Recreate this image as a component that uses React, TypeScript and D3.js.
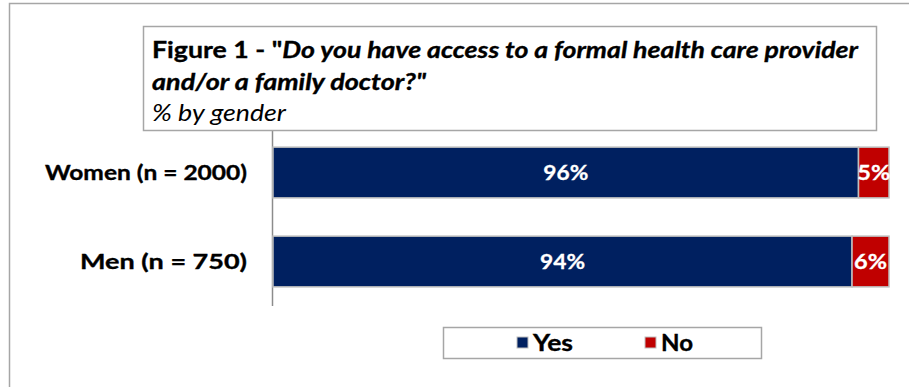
import React from "react";
import * as d3 from "d3";

const categories = ["Women (n = 2000)", "Men (n = 750)"];
const seriesNames = ["Yes", "No"];
const yesValues = [96, 94];
const noValues = [5, 6];
const colors = ["#002060", "#C00000"];

const W = 909;
const H = 387;
const FONT = "Lato, 'Open Sans', sans-serif";

export default function App() {
  const x = d3.scaleLinear().domain([0, 1]).range([273, 889]);
  const y = d3.scaleBand().domain(categories).range([128, 306]).paddingInner(0.43).paddingOuter(0.215);

  const rows = categories.map((c, i) => {
    const vals = [yesValues[i], noValues[i]];
    const total = d3.sum(vals);
    let acc = 0;
    return {
      cat: c,
      segs: vals.map((v, j) => {
        const s = { name: seriesNames[j], v, x0: acc / total, x1: (acc + v) / total, color: colors[j] };
        acc += v;
        return s;
      }),
    };
  });

  const labelLen: Record<string, number> = { "Women (n = 2000)": 202, "Men (n = 750)": 167 };

  return (
    <svg width={W} height={H} style={{ position: "absolute", left: 0, top: 0, background: "#fff" }}>
      <rect x={9.5} y={3.5} width={W + 20} height={H + 20} fill="#fff" stroke="#a6a6a6" strokeWidth={1.5} />
      {/* axis line */}
      <line x1={272.5} x2={272.5} y1={128} y2={306} stroke="#8c8c8c" strokeWidth={1.5} />
      {/* title box */}
      <rect x={143.5} y={26.5} width={733} height={104} fill="#fff" stroke="#a6a6a6" strokeWidth={1.5} />
      <text x={152} y={58} fontFamily={FONT} fontSize={23.5} fill="#000" stroke="#000" strokeWidth={0.35} textLength={706} lengthAdjust="spacingAndGlyphs">
        <tspan fontWeight="bold">Figure 1 - "</tspan>
        <tspan fontWeight="bold" fontStyle="italic">Do you have access to a formal health care provider</tspan>
      </text>
      <text x={152} y={90} fontFamily={FONT} fontSize={23.5} fill="#000" stroke="#000" strokeWidth={0.35} fontWeight="bold" fontStyle="italic" textLength={274} lengthAdjust="spacingAndGlyphs">
        and/or a family doctor?"
      </text>
      <text x={152} y={121} fontFamily={FONT} fontSize={23.5} fill="#000" fontStyle="italic" textLength={134} lengthAdjust="spacingAndGlyphs">
        % by gender
      </text>
      {rows.map((r) => (
        <g key={r.cat}>
          <text
            x={247}
            y={(y(r.cat) as number) + y.bandwidth() / 2}
            dy="0.36em"
            textAnchor="end"
            fontFamily={FONT}
            fontSize={21.5}
            fontWeight="bold"
            fill="#000"
            stroke="#000"
            strokeWidth={0.35}
            textLength={labelLen[r.cat]}
            lengthAdjust="spacingAndGlyphs"
          >
            {r.cat}
          </text>
          {r.segs.map((s) => (
            <g key={s.name}>
              <rect
                x={x(s.x0)}
                y={y(r.cat)}
                width={x(s.x1) - x(s.x0)}
                height={y.bandwidth()}
                fill={s.color}
                stroke="#bfbfbf"
                strokeWidth={1.5}
              />
              <text
                x={(x(s.x0) + x(s.x1)) / 2}
                y={(y(r.cat) as number) + y.bandwidth() / 2}
                dy="0.36em"
                textAnchor="middle"
                fontFamily={FONT}
                fontSize={21.5}
                fontWeight="bold"
                fill="#fff"
                stroke="#fff"
                strokeWidth={0.3}
                textLength={s.name === "Yes" ? 45 : 33}
                lengthAdjust="spacingAndGlyphs"
              >
                {s.v}%
              </text>
            </g>
          ))}
        </g>
      ))}
      {/* legend */}
      <rect x={443.5} y={327.5} width={318} height={31} fill="#fff" stroke="#a6a6a6" strokeWidth={1.5} />
      {seriesNames.map((n, i) => {
        const lx = i === 0 ? 517 : 645;
        return (
          <g key={n}>
            <rect x={lx} y={337} width={11} height={11} fill={colors[i]} stroke="#bfbfbf" strokeWidth={1} />
            <text
              x={lx + 16}
              y={343}
              dy="0.36em"
              fontFamily={FONT}
              fontSize={22.5}
              fontWeight="bold"
              fill="#000"
              stroke="#000"
              strokeWidth={0.35}
              textLength={i === 0 ? 40 : 32}
              lengthAdjust="spacingAndGlyphs"
            >
              {n}
            </text>
          </g>
        );
      })}
    </svg>
  );
}
